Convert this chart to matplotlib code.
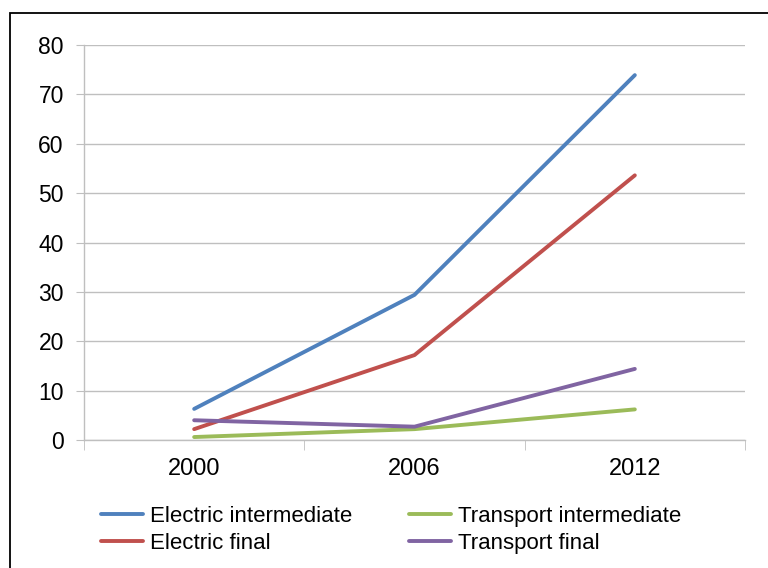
import numpy as np
import matplotlib
matplotlib.use('Agg')
import matplotlib.pyplot as plt
from matplotlib.patches import Rectangle

# data
years = ['2000', '2006', '2012']
electric_intermediate = [6.3, 29.4, 73.9]
electric_final = [2.2, 17.2, 53.6]
transport_intermediate = [0.6, 2.2, 6.2]
transport_final = [4.0, 2.7, 14.4]

plt.rcParams['font.family'] = ['Liberation Sans', 'DejaVu Sans']

fig = plt.figure(figsize=(7.68, 5.68), dpi=100)
ax = fig.add_axes([84/768, 1 - 440/568, (745 - 84)/768, (440 - 45)/568])

# frame round the chart (right and bottom run off the picture)
fig.patches.append(Rectangle((10/768, -0.05), 1.1, 1 - 13/568 + 0.05, transform=fig.transFigure,
                             fill=False, edgecolor='black', linewidth=1.3))

x = np.arange(len(years))
lw = 2.8
ax.plot(x, electric_intermediate, color='#4F81BD', lw=lw, label='Electric intermediate', solid_capstyle='round')
ax.plot(x, electric_final, color='#C0504D', lw=lw, label='Electric final', solid_capstyle='round')
ax.plot(x, transport_intermediate, color='#9BBB59', lw=lw, label='Transport intermediate', solid_capstyle='round')
ax.plot(x, transport_final, color='#8064A2', lw=lw, label='Transport final', solid_capstyle='round')

ax.set_xlim(-0.5, 2.5)
ax.set_ylim(0, 80)
ax.set_yticks(np.arange(0, 81, 10))
ax.set_xticks(x)
ax.set_xticklabels(years)
ax.set_xticks([-0.5, 0.5, 1.5, 2.5], minor=True)

ax.grid(axis='y', color='#BFBFBF', lw=1)
ax.set_axisbelow(True)
for s in ['top', 'right']:
    ax.spines[s].set_visible(False)
for s in ['left', 'bottom']:
    ax.spines[s].set_color('#BFBFBF')
    ax.spines[s].set_linewidth(1)

ax.tick_params(axis='y', length=5.5, color='#BFBFBF', labelsize=16.5, pad=9)
ax.tick_params(axis='x', which='major', length=0, labelsize=17, pad=13)
ax.tick_params(axis='x', which='minor', length=7, color='#BFBFBF')

fig.legend(loc='upper left', bbox_to_anchor=(101/768, 1 - 506/568), ncol=2, frameon=False,
           fontsize=16, handlelength=1.9, handletextpad=0.3, columnspacing=2.55,
           labelspacing=0.28, borderaxespad=0, borderpad=0)

fig.savefig('out.png', dpi=100)
